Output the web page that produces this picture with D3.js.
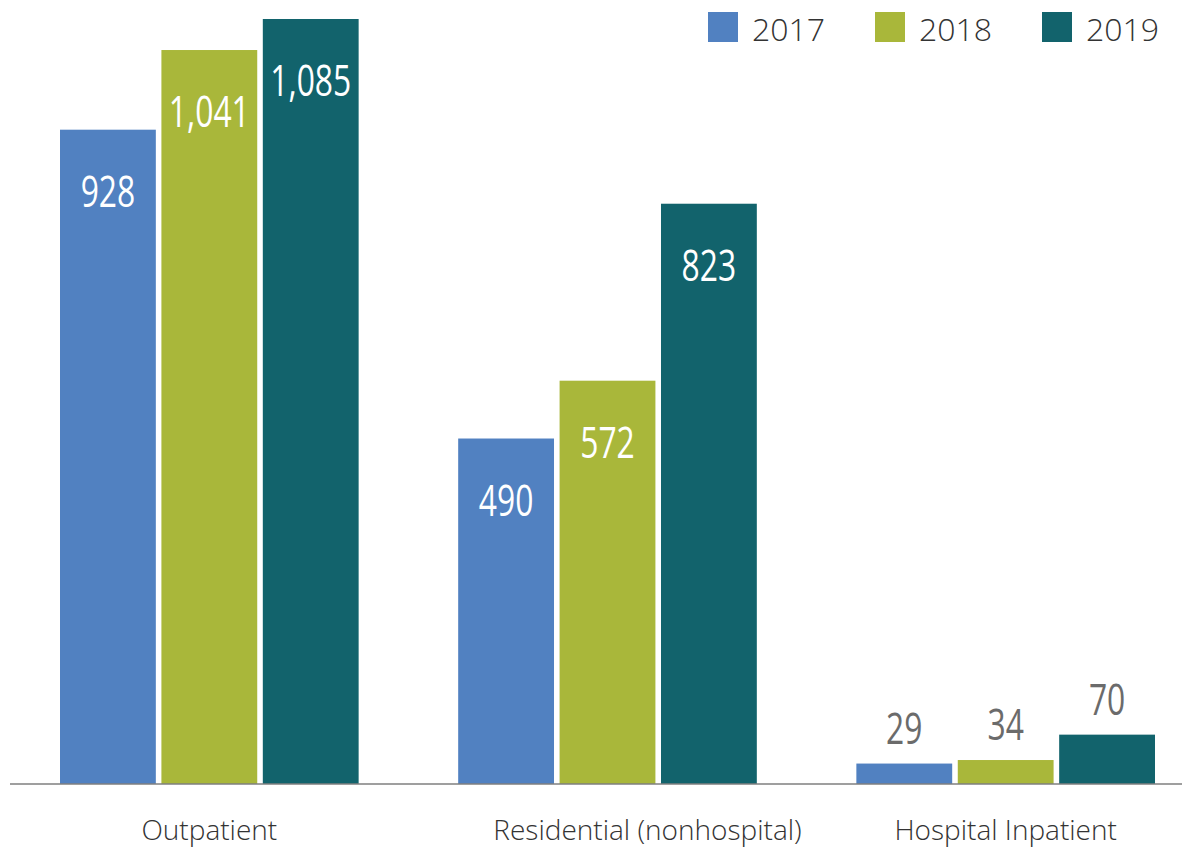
<!DOCTYPE html>
<html>
<head>
<meta charset="utf-8">
<script src="https://cdn.jsdelivr.net/npm/d3@7"></script>
<style>
  body { margin: 0; background: #fff; }
  svg { display: block; }
</style>
</head>
<body>
<svg id="chart"></svg>
<script>
// treatment settings, admissions per year
let categories = ["Outpatient", "Residential (nonhospital)", "Hospital Inpatient"];
let years = ["2017", "2018", "2019"];
let values2017 = [928, 490, 29];
let values2018 = [1041, 572, 34];
let values2019 = [1085, 823, 70];
let colors = ["#5181c1", "#a9b73a", "#12636c"];

let width = 1182;
let height = 847;
let baseY = 784;

let rows = categories.map(function(c, i){
    return {
        category: c,
        bars: [
            {year: years[0], value: values2017[i]},
            {year: years[1], value: values2018[i]},
            {year: years[2], value: values2019[i]}
        ]
    };
});

let svg = d3.select("#chart")
    .attr("width", width)
    .attr("height", height);

let x0 = d3.scaleBand()
    .domain(categories)
    .range([60, 1155])
    .paddingInner(0.25)
    .paddingOuter(0);

let x1 = d3.scaleBand()
    .domain(years)
    .range([0, x0.bandwidth()])
    .paddingInner(0.055);

let allValues = values2017.concat(values2018, values2019);
let y = d3.scaleLinear()
    .domain([0, d3.max(allValues)])
    .range([baseY, 19]);

let color = d3.scaleOrdinal().domain(years).range(colors);

let isInside = function(d){ return baseY - y(d.value) > 100; };

let groups = svg.append("g").selectAll("g")
    .data(rows)
    .enter()
    .append("g")
    .attr("transform", function(d){ return "translate(" + x0(d.category) + ",0)"; });

groups.selectAll("rect")
    .data(function(d){ return d.bars; })
    .enter()
    .append("rect")
    .attr("x", function(d){ return x1(d.year); })
    .attr("y", function(d){ return y(d.value); })
    .attr("width", x1.bandwidth())
    .attr("height", function(d){ return baseY - y(d.value); })
    .attr("fill", function(d){ return color(d.year); });

// value labels: inside the bar in white, above it in gray when the bar is short
// (no condensed face installed, so squeeze the text horizontally)
groups.selectAll("text")
    .data(function(d){ return d.bars; })
    .enter()
    .append("text")
    .text(function(d){ return d3.format(",")(d.value); })
    .attr("transform", function(d){
        let cx = x1(d.year) + x1.bandwidth() / 2;
        let cy = isInside(d) ? y(d.value) + 77 : y(d.value) - 20;
        return "translate(" + cx + "," + cy + ") scale(0.74,1)";
    })
    .attr("text-anchor", "middle")
    .attr("font-family", "'Open Sans', sans-serif")
    .attr("font-size", "43px")
    .attr("fill", function(d){ return isInside(d) ? "#ffffff" : "#6b6b6b"; });

// baseline
svg.append("line")
    .attr("x1", 10)
    .attr("x2", width)
    .attr("y1", baseY)
    .attr("y2", baseY)
    .attr("stroke", "#7f7f7f")
    .attr("stroke-width", 1.5);

// category labels
let labelNudge = {"Residential (nonhospital)": 40};
svg.append("g").selectAll("text")
    .data(categories)
    .enter()
    .append("text")
    .text(function(d){ return d; })
    .attr("x", function(d){ return x0(d) + x0.bandwidth() / 2 + (labelNudge[d] || 0); })
    .attr("y", 840)
    .attr("text-anchor", "middle")
    .attr("font-family", "'Open Sans', sans-serif")
    .attr("font-weight", 300)
    .attr("font-size", "28px")
    .attr("fill", "#333333");

// legend
let legendX = d3.scalePoint().domain(years).range([708, 1042]);
let legend = svg.append("g").selectAll("g")
    .data(years)
    .enter()
    .append("g")
    .attr("transform", function(d){ return "translate(" + legendX(d) + ",12)"; });

legend.append("rect")
    .attr("width", 30)
    .attr("height", 30)
    .attr("fill", function(d){ return color(d); });

legend.append("text")
    .text(function(d){ return d; })
    .attr("x", 44)
    .attr("y", 29)
    .attr("font-family", "'Open Sans', sans-serif")
    .attr("font-weight", 300)
    .attr("font-size", "32px")
    .attr("fill", "#333333");
</script>
</body>
</html>
